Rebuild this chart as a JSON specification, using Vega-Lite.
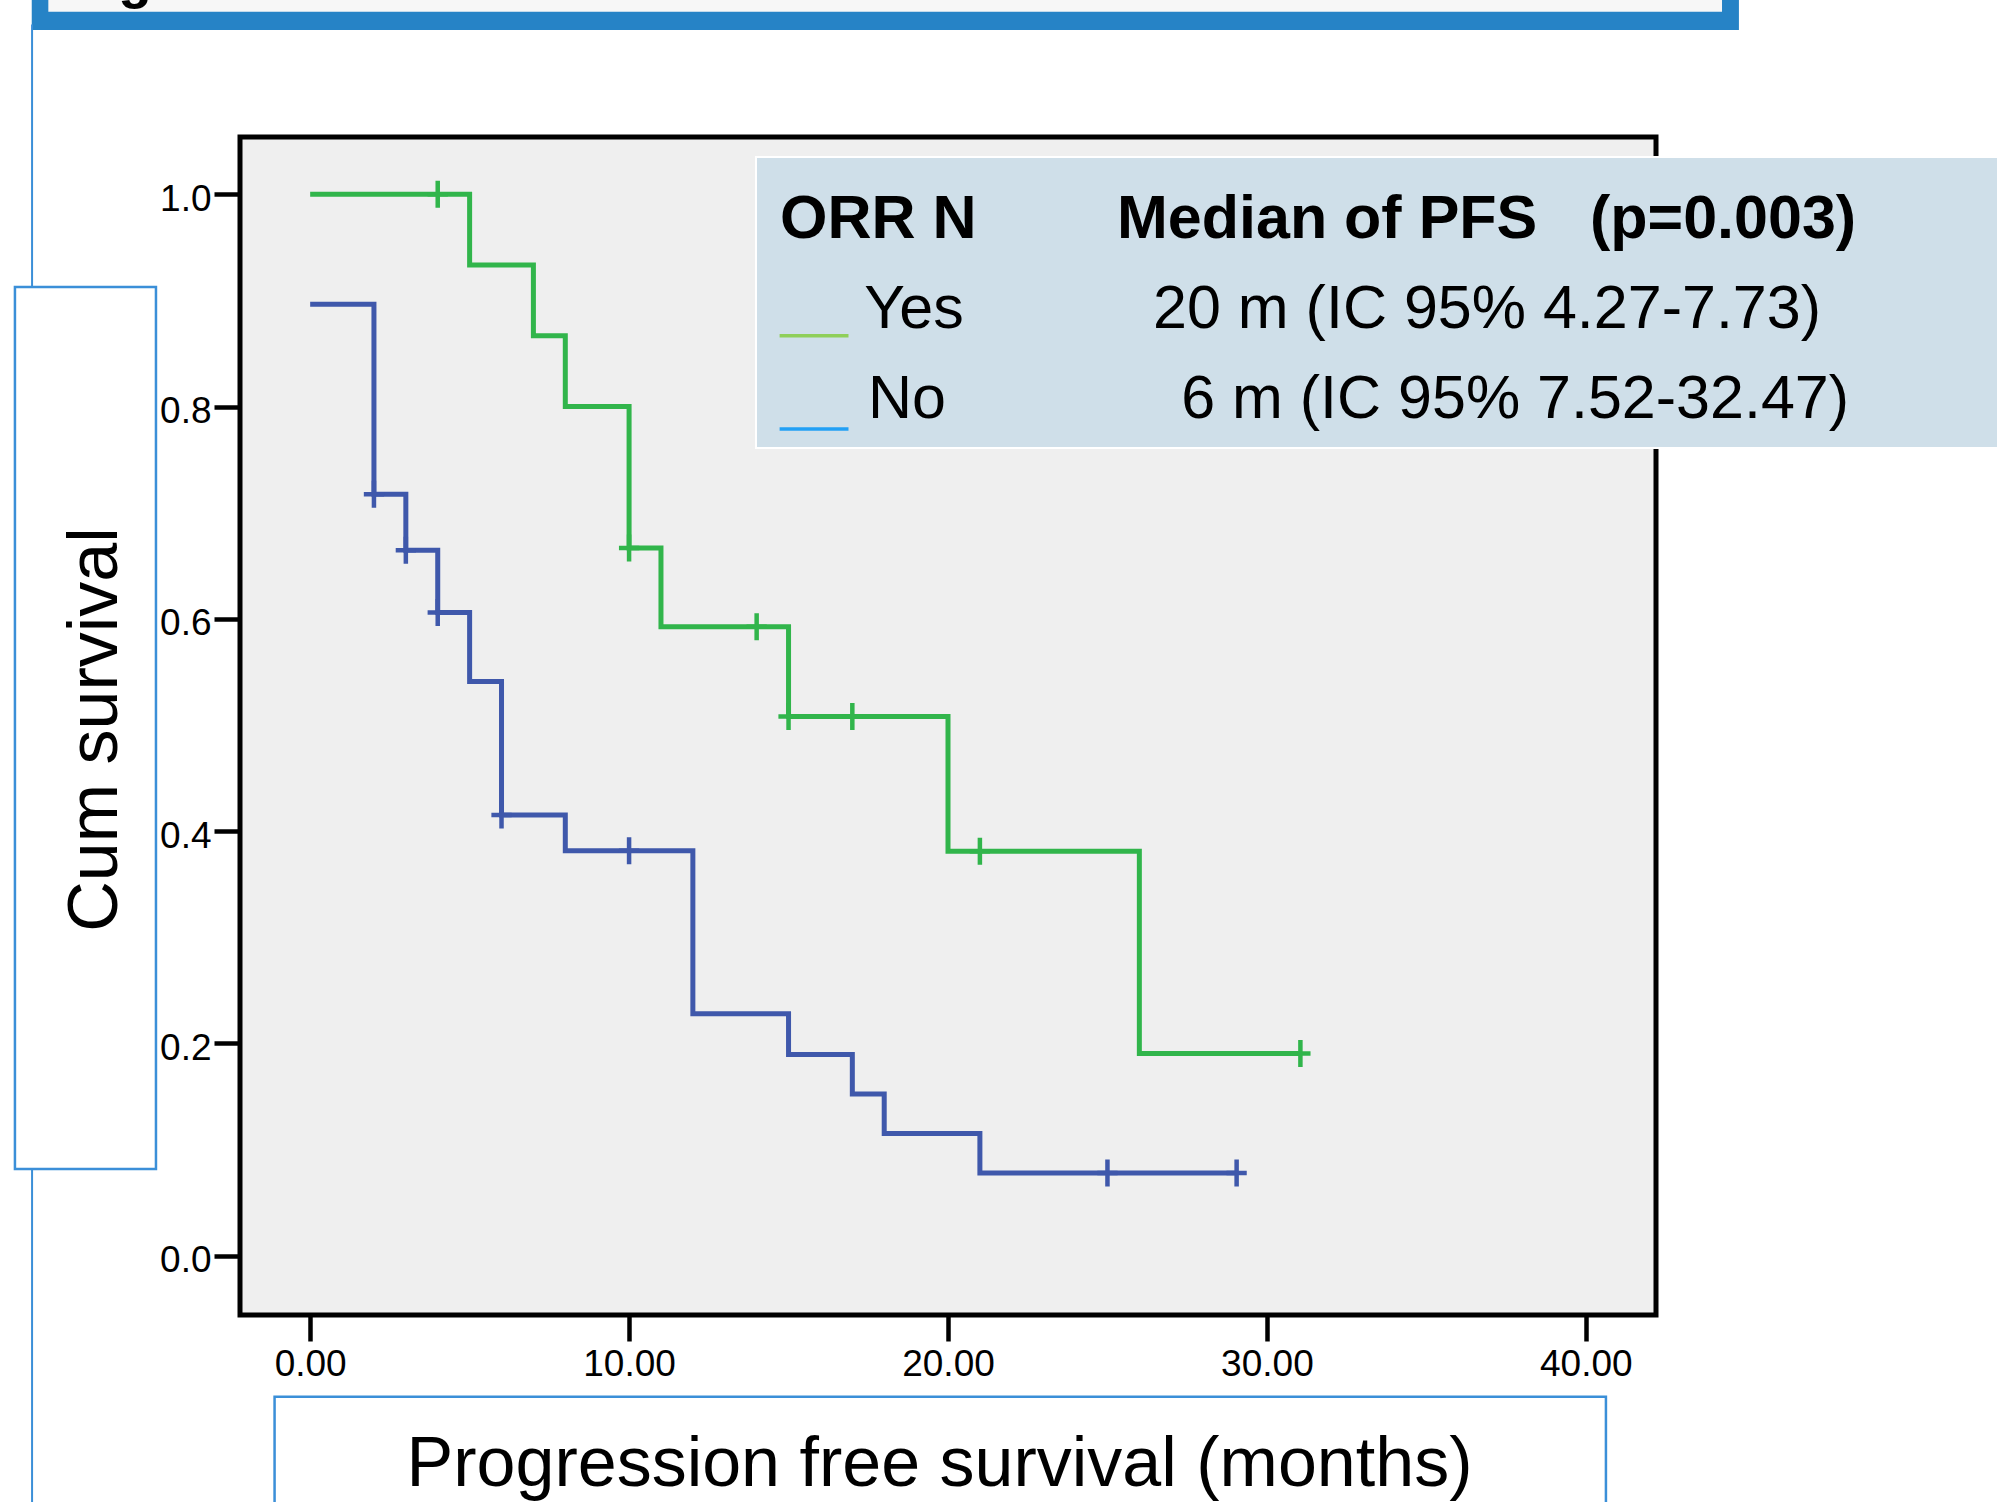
{
  "$schema": "https://vega.github.io/schema/vega-lite/v6.json",
  "width": 1416,
  "height": 1178,
  "autosize": {"type": "none"},
  "padding": {"left": 240, "top": 137, "right": 341, "bottom": 187},
  "background": "white",
  "data": {"values": [{}]},
  "datasets": {
    "km": [
      {"group": "Yes", "t": 0, "s": 1.0},
      {"group": "Yes", "t": 5, "s": 0.9333},
      {"group": "Yes", "t": 7, "s": 0.8667},
      {"group": "Yes", "t": 8, "s": 0.8},
      {"group": "Yes", "t": 10, "s": 0.6667},
      {"group": "Yes", "t": 11, "s": 0.5926},
      {"group": "Yes", "t": 15, "s": 0.508},
      {"group": "Yes", "t": 20, "s": 0.381},
      {"group": "Yes", "t": 26, "s": 0.1905},
      {"group": "Yes", "t": 31.05, "s": 0.1905},
      {"group": "No", "t": 0, "s": 0.8963},
      {"group": "No", "t": 2, "s": 0.7174},
      {"group": "No", "t": 3, "s": 0.6647},
      {"group": "No", "t": 4, "s": 0.6059},
      {"group": "No", "t": 5, "s": 0.541},
      {"group": "No", "t": 6, "s": 0.4151},
      {"group": "No", "t": 8, "s": 0.3814},
      {"group": "No", "t": 12, "s": 0.2278},
      {"group": "No", "t": 15, "s": 0.1895},
      {"group": "No", "t": 17, "s": 0.1523},
      {"group": "No", "t": 18, "s": 0.115},
      {"group": "No", "t": 21, "s": 0.0778},
      {"group": "No", "t": 29.05, "s": 0.0778}
    ],
    "censor": [
      {"group": "Yes", "t": 4, "s": 1.0},
      {"group": "Yes", "t": 10, "s": 0.6667},
      {"group": "Yes", "t": 14, "s": 0.5926},
      {"group": "Yes", "t": 15, "s": 0.508},
      {"group": "Yes", "t": 17, "s": 0.508},
      {"group": "Yes", "t": 21, "s": 0.381},
      {"group": "Yes", "t": 31.05, "s": 0.1905},
      {"group": "No", "t": 2, "s": 0.7174},
      {"group": "No", "t": 3, "s": 0.6647},
      {"group": "No", "t": 4, "s": 0.6059},
      {"group": "No", "t": 6, "s": 0.4151},
      {"group": "No", "t": 10, "s": 0.3814},
      {"group": "No", "t": 25, "s": 0.0778},
      {"group": "No", "t": 29.05, "s": 0.0778}
    ]
  },
  "config": {
    "view": {"stroke": null, "fill": null},
    "axis": {
      "grid": false, "domain": false, "ticks": true, "tickColor": "black", "tickWidth": 4.5, "tickSize": 26,
      "labelFont": "Liberation Sans", "labelFontSize": 37, "labelColor": "black",
      "titleFont": "Liberation Sans", "titleFontSize": 70, "titleFontWeight": "normal", "titleColor": "black"
    },
    "axisX": {"labelPadding": 5, "labelFlush": false, "titleX": 699, "titleY": 170, "titleBaseline": "alphabetic", "titleAlign": "center"},
    "axisY": {"labelPadding": 3, "labelOffset": 5, "titleX": -124, "titleY": 592, "titleAngle": 270, "titleBaseline": "alphabetic", "titleAlign": "center"}
  },
  "layer": [
    {
      "mark": {"type": "rect", "fill": "#2683c6"},
      "encoding": {
        "x": {"datum": -8.73, "type": "quantitative"}, "x2": {"datum": 44.8},
        "y": {"datum": 1.1548, "type": "quantitative"}, "y2": {"datum": 1.4}
      }
    },
    {
      "mark": {"type": "rect", "fill": "#f7f7f7"},
      "encoding": {
        "x": {"datum": -8.21, "type": "quantitative"}, "x2": {"datum": 44.27},
        "y": {"datum": 1.1721, "type": "quantitative"}, "y2": {"datum": 1.4}
      }
    },
    {
      "mark": {"type": "text", "text": "g", "font": "Liberation Sans", "fontSize": 55, "fontWeight": "bold", "align": "center", "baseline": "alphabetic", "color": "black"},
      "encoding": {
        "x": {"datum": -5.49, "type": "quantitative"},
        "y": {"datum": 1.1855, "type": "quantitative"}
      }
    },
    {
      "mark": {"type": "rule", "stroke": "#3b8fd8", "strokeWidth": 2},
      "encoding": {
        "x": {"datum": -8.72, "type": "quantitative"},
        "y": {"datum": 1.16, "type": "quantitative"}, "y2": {"datum": -0.3}
      }
    },
    {
      "mark": {"type": "rect", "fill": "white", "stroke": "#3b8fd8", "strokeWidth": 2.5},
      "encoding": {
        "x": {"datum": -9.257, "type": "quantitative"}, "x2": {"datum": -4.835},
        "y": {"datum": 0.0816, "type": "quantitative"}, "y2": {"datum": 0.9127}
      }
    },
    {
      "mark": {"type": "rect", "fill": "white", "stroke": "#3b8fd8", "strokeWidth": 2.5},
      "encoding": {
        "x": {"datum": -1.116, "type": "quantitative"}, "x2": {"datum": 40.63},
        "y": {"datum": -0.133, "type": "quantitative"}, "y2": {"datum": -0.3}
      }
    },
    {
      "mark": {"type": "rect", "fill": "#efefef", "stroke": "black", "strokeWidth": 5},
      "encoding": {
        "x": {"datum": -2.2, "type": "quantitative"}, "x2": {"datum": 42.2},
        "y": {"datum": -0.056, "type": "quantitative"}, "y2": {"datum": 1.054}
      }
    },
    {
      "data": {"name": "km"},
      "mark": {"type": "line", "interpolate": "step-after", "strokeWidth": 5},
      "encoding": {
        "x": {"field": "t", "type": "quantitative", "scale": {"domain": [-2.2, 42.2], "nice": false, "zero": false}, "axis": {"values": [0, 10, 20, 30, 40], "format": ".2f", "title": "Progression free survival (months)", "zindex": 1}},
        "y": {"field": "s", "type": "quantitative", "scale": {"domain": [-0.056, 1.054], "nice": false, "zero": false}, "axis": {"values": [0, 0.2, 0.4, 0.6, 0.8, 1.0], "format": ".1f", "title": "Cum survival", "zindex": 1}},
        "color": {"field": "group", "type": "nominal", "scale": {"domain": ["Yes", "No"], "range": ["#31b54b", "#3f58ab"]}, "legend": null}
      }
    },
    {
      "data": {"name": "censor"},
      "mark": {"type": "point", "shape": "M-0.75,0H0.75M0,-1V1", "size": 729, "filled": false, "strokeWidth": 4.5, "opacity": 1},
      "encoding": {
        "x": {"field": "t", "type": "quantitative"},
        "y": {"field": "s", "type": "quantitative"},
        "color": {"field": "group", "type": "nominal", "legend": null}
      }
    },
    {
      "mark": {"type": "rect", "fill": "#cfdfe9", "stroke": "white", "strokeWidth": 2},
      "encoding": {
        "x": {"datum": 13.98, "type": "quantitative"}, "x2": {"datum": 53},
        "y": {"datum": 0.761, "type": "quantitative"}, "y2": {"datum": 1.0351}
      }
    },
    {
      "mark": {"type": "rule", "stroke": "#8fcf5a", "strokeWidth": 3.5},
      "encoding": {
        "x": {"datum": 14.72, "type": "quantitative"}, "x2": {"datum": 16.88},
        "y": {"datum": 0.8668, "type": "quantitative"}
      }
    },
    {
      "mark": {"type": "rule", "stroke": "#22a0f5", "strokeWidth": 3.5},
      "encoding": {
        "x": {"datum": 14.72, "type": "quantitative"}, "x2": {"datum": 16.88},
        "y": {"datum": 0.7789, "type": "quantitative"}
      }
    },
    {
      "mark": {"type": "text", "text": "ORR N", "font": "Liberation Sans", "fontSize": 61, "fontWeight": "bold", "align": "left", "baseline": "alphabetic", "color": "black"},
      "encoding": {"x": {"datum": 14.73, "type": "quantitative"}, "y": {"datum": 0.9585, "type": "quantitative"}}
    },
    {
      "mark": {"type": "text", "text": "Median of PFS", "font": "Liberation Sans", "fontSize": 61, "fontWeight": "bold", "align": "left", "baseline": "alphabetic", "color": "black"},
      "encoding": {"x": {"datum": 25.3, "type": "quantitative"}, "y": {"datum": 0.9585, "type": "quantitative"}}
    },
    {
      "mark": {"type": "text", "text": "(p=0.003)", "font": "Liberation Sans", "fontSize": 61, "fontWeight": "bold", "align": "left", "baseline": "alphabetic", "color": "black"},
      "encoding": {"x": {"datum": 40.13, "type": "quantitative"}, "y": {"datum": 0.9585, "type": "quantitative"}}
    },
    {
      "mark": {"type": "text", "text": "Yes", "font": "Liberation Sans", "fontSize": 61, "align": "left", "baseline": "alphabetic", "color": "black"},
      "encoding": {"x": {"datum": 17.375, "type": "quantitative"}, "y": {"datum": 0.8737, "type": "quantitative"}}
    },
    {
      "mark": {"type": "text", "text": "20 m (IC 95% 4.27-7.73)", "font": "Liberation Sans", "fontSize": 61, "align": "left", "baseline": "alphabetic", "color": "black"},
      "encoding": {"x": {"datum": 26.43, "type": "quantitative"}, "y": {"datum": 0.8737, "type": "quantitative"}}
    },
    {
      "mark": {"type": "text", "text": "No", "font": "Liberation Sans", "fontSize": 61, "align": "left", "baseline": "alphabetic", "color": "black"},
      "encoding": {"x": {"datum": 17.49, "type": "quantitative"}, "y": {"datum": 0.7889, "type": "quantitative"}}
    },
    {
      "mark": {"type": "text", "text": "6 m (IC 95% 7.52-32.47)", "font": "Liberation Sans", "fontSize": 61, "align": "left", "baseline": "alphabetic", "color": "black"},
      "encoding": {"x": {"datum": 27.31, "type": "quantitative"}, "y": {"datum": 0.7889, "type": "quantitative"}}
    }
  ]
}
